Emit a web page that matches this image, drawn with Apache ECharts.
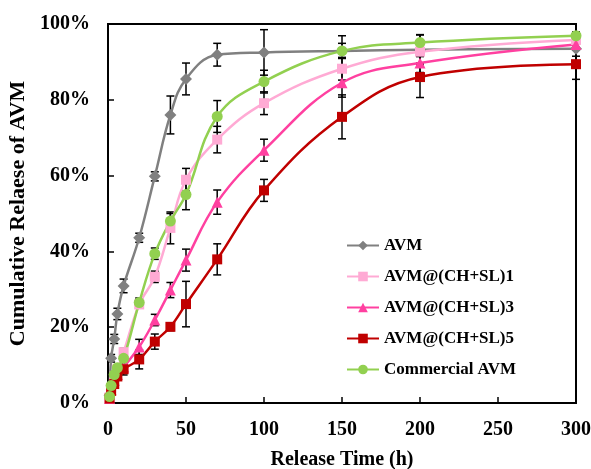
<!DOCTYPE html>
<html><head><meta charset="utf-8">
<script src="https://cdn.jsdelivr.net/npm/echarts@6/dist/echarts.min.js"></script>
<style>html,body{margin:0;padding:0;background:#fff}#c{width:591px;height:469px}</style>
</head><body><div id="c"></div>
<script>
const times = [1, 2, 4, 6, 10, 20, 30, 40, 50, 70, 100, 150, 200, 300];
const seriesNames = ['AVM', 'AVM@(CH+SL)1', 'AVM@(CH+SL)3', 'AVM@(CH+SL)5', 'Commercial AVM'];
const avm      = [2.0, 11.8, 16.9, 23.5, 30.9, 43.6, 59.8, 76.0, 85.5, 91.9, 92.5, 92.9, 93.2, 93.5];
const avm1     = [1.5, 4.0, 7.0, 9.0, 13.4, 26.0, 33.3, 46.2, 58.9, 69.5, 79.1, 88.2, 92.7, 95.8];
const avm3     = [1.2, 3.5, 6.0, 7.5, 9.5, 14.8, 21.9, 29.8, 37.7, 53.0, 66.7, 84.5, 89.7, 94.6];
const avm5     = [1.2, 3.2, 5.0, 7.0, 8.9, 11.5, 16.2, 20.1, 26.1, 37.9, 56.1, 75.5, 86.0, 89.4];
const commer   = [1.7, 4.6, 7.5, 9.3, 11.8, 26.5, 39.4, 48.0, 55.0, 75.6, 84.8, 92.9, 95.1, 96.9];
const avmErr    = [0.5, 1.0, 1.2, 1.5, 1.8, 1.2, 1.2, 5.0, 4.2, 3.0, 6.0, 4.0, 4.0, 2.0];
const avm1Err   = [0.5, 0.5, 0.5, 0.5, 1.0, 1.0, 1.5, 4.2, 3.0, 3.5, 3.0, 3.0, 3.0, 2.0];
const avm3Err   = [0.5, 0.5, 0.5, 0.5, 0.8, 2.0, 1.5, 2.0, 2.9, 3.2, 2.9, 3.8, 2.5, 1.5];
const avm5Err   = [0.5, 0.5, 0.5, 0.8, 1.5, 2.5, 2.0, 1.0, 6.0, 4.1, 2.9, 5.8, 5.4, 4.0];
const commerErr = [0.5, 0.5, 0.5, 0.5, 0.8, 1.2, 1.5, 2.0, 4.0, 4.2, 3.0, 2.0, 2.0, 1.0];
const xTicks = [0, 50, 100, 150, 200, 250, 300];
const yTicks = [0, 20, 40, 60, 80, 100];

const font = '"Liberation Serif", "DejaVu Serif", serif';
const colors = ['#808080', '#FFAAD4', '#FF40A0', '#C00000', '#92D050'];
const symbols = ['diamond', 'rect', 'triangle', 'rect', 'circle'];
const sizes = [12, 10, 11, 10, 11];
const vals = [avm, avm1, avm3, avm5, commer];
const errs = [avmErr, avm1Err, avm3Err, avm5Err, commerErr];

const series = [];
vals.forEach((v, i) => {
  series.push({
    type: 'custom', name: seriesNames[i] + ' err', silent: true, z: 1,
    data: times.map((t, k) => [t, v[k] - errs[i][k], v[k] + errs[i][k]]),
    renderItem: function (params, api) {
      const lo = api.coord([api.value(0), api.value(1)]);
      const hi = api.coord([api.value(0), api.value(2)]);
      const w = 4;
      const st = { stroke: '#000', lineWidth: 1.5 };
      return { type: 'group', children: [
        { type: 'line', shape: { x1: lo[0], y1: lo[1], x2: hi[0], y2: hi[1] }, style: st },
        { type: 'line', shape: { x1: lo[0] - w, y1: lo[1], x2: lo[0] + w, y2: lo[1] }, style: st },
        { type: 'line', shape: { x1: hi[0] - w, y1: hi[1], x2: hi[0] + w, y2: hi[1] }, style: st }
      ]};
    }
  });
});
vals.forEach((v, i) => {
  series.push({
    type: 'line', name: seriesNames[i], z: 3,
    data: times.map((t, k) => [t, v[k]]),
    smooth: 0.4, symbol: symbols[i], symbolSize: sizes[i], showSymbol: true,
    lineStyle: { color: colors[i], width: 2.5 },
    itemStyle: { color: colors[i] }
  });
});

const chart = echarts.init(document.getElementById('c'));
chart.setOption({
  animation: false,
  backgroundColor: '#fff',
  grid: { left: 108, right: 15, top: 24, bottom: 66, containLabel: false, outerBoundsMode: 'none',
    show: true, borderColor: '#000', borderWidth: 2 },
  legend: {
    data: seriesNames, orient: 'vertical', left: 341, top: 232, itemGap: 14,
    itemWidth: 32, itemHeight: 12,
    textStyle: { fontFamily: font, fontWeight: 'bold', fontSize: 17, color: '#000' }
  },
  xAxis: {
    type: 'value', min: 0, max: 300, interval: 50,
    name: 'Release Time (h)', nameLocation: 'middle', nameGap: 47,
    nameTextStyle: { fontFamily: font, fontWeight: 'bold', fontSize: 20, color: '#000' },
    axisLine: { lineStyle: { color: '#000', width: 2 } },
    axisTick: { inside: true, length: 6, lineStyle: { color: '#000', width: 1.5 } },
    splitLine: { show: false },
    axisLabel: { margin: 17, fontFamily: font, fontWeight: 'bold', fontSize: 20, color: '#000',
      formatter: v => xTicks.includes(v) ? String(v) : '' }
  },
  yAxis: {
    type: 'value', min: 0, max: 100, interval: 20,
    name: 'Cumulative Relaese of AVM', nameLocation: 'middle', nameGap: 74, nameRotate: 90,
    nameTextStyle: { fontFamily: font, fontWeight: 'bold', fontSize: 22, color: '#000' },
    axisLine: { lineStyle: { color: '#000', width: 2 } },
    axisTick: { inside: true, length: 6, lineStyle: { color: '#000', width: 1.5 } },
    splitLine: { show: false },
    axisLabel: { margin: 18, fontFamily: font, fontWeight: 'bold', fontSize: 20, color: '#000',
      formatter: v => yTicks.includes(v) ? v + '%' : '' }
  },
  series: series
});
</script></body></html>
